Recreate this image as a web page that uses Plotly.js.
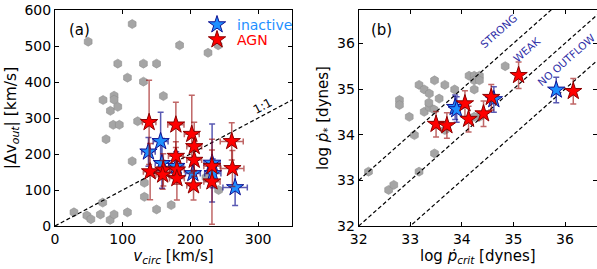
<!DOCTYPE html>
<html>
<head>
<meta charset="utf-8">
<script src="https://cdn.plot.ly/plotly-3.0.1.min.js"></script>
<style>html,body{margin:0;padding:0;background:#fff;}#chart{width:597px;height:269px;}</style>
</head>
<body>
<div id="chart"></div>
<script>
// ---------- Panel (a) data ----------
var greyVcirc = [28,47,53,67,70.5,81.4,87.3,107,49,114,184,226,241,92.7,130.6,150,107,130.6,87.3,87.3,71,81.8,92.7,86,95,75.4,122,160,114,132,132,150,171.6,241.6,223];
var greyDv    = [38,29,19,32,65,17,32,38,512,561,502,481,502,451,451,451,412,401,362,351,350,320,331,281,281,241,291,361,180,120,81,46,58,100,135];

var inactVcirc = [138,156,158,179,203.6,232,233,266];
var inactDv    = [206,235,174,166,146,175,146,107];
var inactVerr  = [10,11,10,11,11,12,12,18];
var inactDverr = [40,81,69,40,40,108,40,50];

var agnVcirc = [139,178.5,202,205.6,261,178.5,205.6,140.5,160,159,180,180,204.6,231.8,231.8,262];
var agnDv    = [288,281,255,221,235,194,183,151,156,142,156,132,112,166,123,160];
var agnVerr  = [10,12,11,11,17,11,11,10,10,10,11,11,10,12,12,17];
var agnDverr = [117,63,108,67,52,40,45,78,45,40,40,60,40,45,118,50];

var oneToOne = [0, 350];

// ---------- Panel (b) data ----------
var greyPcrit = [32.19,32.58,32.68,32.79,32.79,32.98,33.08,33.17,33.17,33.27,33.27,33.37,33.37,33.47,33.47,33.56,33.67,33.67,33.86,34.14,34.24,34.34,34.24,34.34,34.24,34.34,34.24,34.84,33.36,33.46];
var greyPstar = [33.19,32.79,32.90,34.76,34.65,34.39,33.99,33.19,35.09,34.99,34.50,34.90,34.60,35.19,33.59,34.79,35.09,34.10,34.99,35.29,35.29,35.29,35.19,35.19,34.99,34.39,34.39,35.50,34.70,34.55];

var inactPcrit = [33.87,33.90,34.62,35.83];
var inactPstar = [34.60,34.55,34.77,34.98];
var inactPerr  = [0.27,0.28,0.28,0.28];

var agnPcrit = [33.50,33.71,34.06,34.13,34.42,34.57,35.10,36.16];
var agnPstar = [34.23,34.20,34.68,34.34,34.46,34.82,35.30,34.95];
var agnPerr  = [0.28,0.28,0.28,0.28,0.28,0.28,0.29,0.28];

var lineOffsets = [1, 0, -1];   // STRONG, WEAK, NO OUTFLOW
var lineX = [32, 36.8];
var lineLabels = ['STRONG', 'WEAK', 'NO OUTFLOW'];

// ---------- styles ----------
var FONT = 'DejaVu Sans, sans-serif';
var greyMarker = {symbol:'hexagon', size:9, color:'#a5a5a5', line:{color:'#8f8f8f', width:0.6}};
var blueMarker = {symbol:'star', size:13, color:'#1e8fff', line:{color:'#101090', width:1}};
var redMarker  = {symbol:'star', size:13, color:'#ff0000', line:{color:'#8b0000', width:1}};
var blueErr = 'rgba(0,0,139,0.65)';
var redErr  = 'rgba(150,0,0,0.6)';
var DASH = '4px,2.5px';

var traces = [];
traces.push({x:greyVcirc, y:greyDv, mode:'markers', marker:greyMarker, showlegend:false, xaxis:'x', yaxis:'y', hoverinfo:'skip'});
traces.push({x:oneToOne, y:oneToOne, mode:'lines', line:{color:'black', dash:DASH, width:1.2}, showlegend:false, xaxis:'x', yaxis:'y'});
traces.push({x:inactVcirc, y:inactDv, mode:'markers', marker:blueMarker,
  error_x:{type:'data', array:inactVerr, color:blueErr, thickness:1.5, width:3},
  error_y:{type:'data', array:inactDverr, color:blueErr, thickness:1.5, width:3},
  name:'<span style="color:#1e8fff">inactive</span>', legend:'legend', xaxis:'x', yaxis:'y'});
traces.push({x:agnVcirc, y:agnDv, mode:'markers', marker:redMarker,
  error_x:{type:'data', array:agnVerr, color:redErr, thickness:1.5, width:3},
  error_y:{type:'data', array:agnDverr, color:redErr, thickness:1.5, width:3},
  name:'<span style="color:#ff0000">AGN</span>', legend:'legend2', xaxis:'x', yaxis:'y'});

traces.push({x:greyPcrit, y:greyPstar, mode:'markers', marker:greyMarker, showlegend:false, xaxis:'x2', yaxis:'y2'});
lineOffsets.forEach(function(o){
  traces.push({x:lineX, y:lineX.map(function(v){return v+o;}), mode:'lines', line:{color:'black', dash:DASH, width:1.2}, showlegend:false, xaxis:'x2', yaxis:'y2'});
});
traces.push({x:inactPcrit, y:inactPstar, mode:'markers', marker:blueMarker,
  error_y:{type:'data', array:inactPerr, color:blueErr, thickness:1.5, width:3},
  showlegend:false, xaxis:'x2', yaxis:'y2'});
traces.push({x:agnPcrit, y:agnPstar, mode:'markers', marker:redMarker,
  error_y:{type:'data', array:agnPerr, color:redErr, thickness:1.5, width:3},
  showlegend:false, xaxis:'x2', yaxis:'y2'});

function ax(extra){
  var base = {showgrid:false, zeroline:false, showline:true, linecolor:'black', linewidth:1,
    mirror:'ticks', ticks:'inside', ticklen:4, tickwidth:1, tickcolor:'black',
    tickfont:{family:FONT, size:14, color:'black'}};
  for (var k in extra) base[k] = extra[k];
  return base;
}
var yDom = [43/269, 259/269];

var labelColor = '#2e2ea6';
var labelPos = [[34.71,36.28],[35.27,35.87],[36.02,35.64]];
var annotations = [
  {xref:'x domain', yref:'y domain', x:0.05, y:0.96, yanchor:'top', text:'(a)', showarrow:false, font:{family:FONT, size:15, color:'black'}, xanchor:'left'},
  {xref:'x2 domain', yref:'y2 domain', x:0.045, y:0.96, yanchor:'top', text:'(b)', showarrow:false, font:{family:FONT, size:15, color:'black'}, xanchor:'left'},
  {xref:'x', yref:'y', x:307, y:333, text:'1:1', showarrow:false, textangle:-28, font:{family:FONT, size:12, color:'black'}}
];
lineLabels.forEach(function(t,i){
  annotations.push({xref:'x2', yref:'y2', x:labelPos[i][0], y:labelPos[i][1], text:t, showarrow:false, textangle:-41.5, font:{family:FONT, size:10.5, color:labelColor}});
});

var legStyle = {xanchor:'left', yanchor:'middle', bgcolor:'rgba(0,0,0,0)', font:{family:FONT, size:14}, itemwidth:30, borderwidth:0};
function leg(x, y){ var o = {x:x, y:y}; for (var k in legStyle) o[k] = legStyle[k]; return o; }

var layout = {
  width:597, height:269,
  margin:{l:0, r:0, t:0, b:0},
  paper_bgcolor:'white', plot_bgcolor:'white',
  font:{family:FONT},
  showlegend:true,
  legend: leg(0.33, 1 - 25/269),
  legend2: leg(0.33, 1 - 40/269),
  xaxis:ax({domain:[55/597, 292/597], range:[0,350], tickvals:[0,100,200,300], anchor:'y',
    title:{text:'<i>v</i><sub><i>circ</i></sub> [km/s]', font:{family:FONT, size:15, color:'black'}, standoff:2}}),
  yaxis:ax({domain:yDom, range:[0,600], tickvals:[0,100,200,300,400,500,600], anchor:'x',
    title:{text:'|Δv<sub><i>out</i></sub>| [km/s]', font:{family:FONT, size:15.5, color:'black'}, standoff:4}}),
  xaxis2:ax({domain:[358.7/597, 1], range:[32,36.62], tickvals:[32,33,34,35,36], anchor:'y2',
    title:{text:'log <i>ṗ</i><sub><i>crit</i></sub> [dynes]', font:{family:FONT, size:15, color:'black'}, standoff:2}}),
  yaxis2:ax({domain:yDom, range:[32,36.73], tickvals:[32,33,34,35,36], anchor:'x2',
    title:{text:'log <i>ṗ</i><sub>*</sub> [dynes]', font:{family:FONT, size:15, color:'black'}, standoff:4}}),
  annotations:annotations
};

Plotly.newPlot('chart', traces, layout, {displayModeBar:false, staticPlot:true});
</script>
</body>
</html>
